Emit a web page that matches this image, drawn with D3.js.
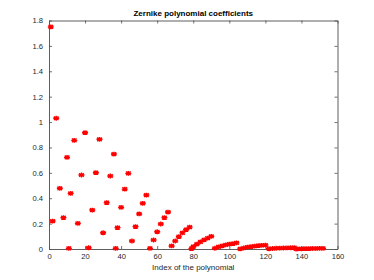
<!DOCTYPE html>
<html>
<head>
<meta charset="utf-8">
<script src="https://cdn.jsdelivr.net/npm/d3@7"></script>
<style>
  body { margin: 0; background: #fff; }
  text { font-family: "Liberation Sans", Arial, sans-serif; }
</style>
</head>
<body>
<div id="chart"></div>
<script>
// Zernike coefficients (Noll index)
var polyIndex = [1,2,4,6,8,10,11,12,14,16,18,20,22,24,26,28,30,32,34,36,37,38,40,42,44,
  46,48,50,52,54,56,58,60,62,64,66,68,70,72,74,76,78,79,80,82,84,86,88,90,
  92,94,96,98,100,102,104,106,108,110,112,114,116,118,120,
  122,124,126,128,130,132,134,136,137,138,140,142,144,146,148,150,152]
var coefValues = [1.75,0.22,1.03,0.478,0.247,0.722,0.005,0.438,0.856,0.202,0.583,0.916,0.01,0.307,0.601,0.864,
  0.128,0.365,0.575,0.748,0.005,0.168,0.328,0.472,0.596,
  0.063,0.176,0.276,0.36,0.425,0.005,0.071,0.136,0.197,0.247,0.291,
  0.024,0.063,0.097,0.127,0.152,0.172,0.003,0.018,0.038,0.056,0.072,0.086,0.1,
  0.006,0.016,0.025,0.032,0.038,0.043,0.048,0.001,0.008,0.014,0.019,0.023,0.026,0.029,0.031,
  0.002,0.004,0.006,0.007,0.008,0.009,0.010,0.011,0.0,0.001,0.002,0.003,0.003,0.004,0.004,0.005,0.005]
var xTicks = [0,20,40,60,80,100,120,140,160]
var yTicks = [0,0.2,0.4,0.6,0.8,1,1.2,1.4,1.6,1.8]

var W = 374, H = 280
var margin = {top: 20.5, right: 36.5, bottom: 31, left: 49},
    width = W - margin.left - margin.right,
    height = H - margin.top - margin.bottom;

var svg = d3.select("#chart")
  .append("svg")
    .attr("width", W)
    .attr("height", H)
  .append("g")
    .attr("transform", "translate(" + margin.left + "," + margin.top + ")");

var x = d3.scaleLinear().domain([0, 160]).range([0, width])
var y = d3.scaleLinear().domain([0, 1.8]).range([height, 0])

var axisColor = "#4d4d4d"

// axes with inward ticks on all four sides (box on)
svg.append("g")
  .attr("transform", "translate(0," + height + ")")
  .call(d3.axisBottom(x).tickValues(xTicks).tickSizeInner(-3).tickSizeOuter(0).tickPadding(4.5))
svg.append("g")
  .call(d3.axisTop(x).tickValues(xTicks).tickSizeInner(-3).tickSizeOuter(0).tickFormat(""))
svg.append("g")
  .call(d3.axisLeft(y).tickValues(yTicks).tickSizeInner(-3).tickSizeOuter(0).tickPadding(6)
    .tickFormat(function(d){ return d3.format("")(+d.toFixed(1)) }))
svg.append("g")
  .attr("transform", "translate(" + width + ",0)")
  .call(d3.axisRight(y).tickValues(yTicks).tickSizeInner(-3).tickSizeOuter(0).tickFormat(""))

svg.selectAll(".domain").attr("stroke", axisColor).attr("stroke-width", 0.9)
svg.selectAll(".tick line").attr("stroke", axisColor).attr("stroke-width", 0.8)
svg.selectAll(".tick text").attr("fill", "#262626").style("font-size", "7.6px")

// markers: asterisks
var pts = polyIndex.map(function(d, i){ return {i: d, v: coefValues[i]} })
svg.selectAll(".pt")
  .data(pts)
  .enter().append("path")
    .attr("class", "pt")
    .attr("transform", function(d){ return "translate(" + x(d.i) + "," + y(d.v) + ")" })
    .attr("d", "M-3,0L3,0M0,-2.4L0,2.4M-2.3,-1.8L2.3,1.8M-2.3,1.8L2.3,-1.8")
    .attr("stroke", "#ff0000")
    .attr("stroke-width", 1.4)
    .attr("fill", "none")

svg.append("text")
  .attr("x", width / 2)
  .attr("y", -5)
  .attr("text-anchor", "middle")
  .style("font-size", "8px")
  .style("font-weight", "bold")
  .text("Zernike polynomial coefficients")

svg.append("text")
  .attr("x", width / 2)
  .attr("y", height + 21)
  .attr("text-anchor", "middle")
  .style("font-size", "8px")
  .attr("fill", "#262626")
  .text("Index of the polynomial")
</script>
</body>
</html>
